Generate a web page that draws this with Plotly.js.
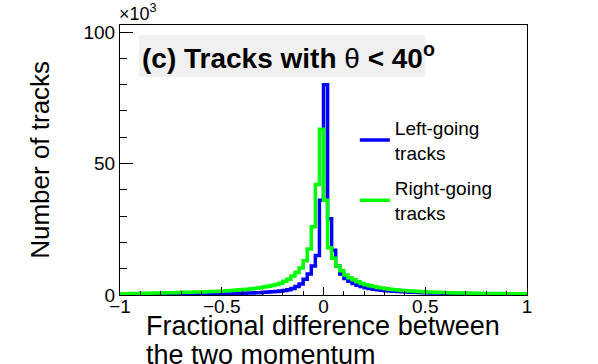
<!DOCTYPE html>
<html>
<head>
<meta charset="utf-8">
<script src="https://cdn.plot.ly/plotly-3.0.1.min.js"></script>
<style>html,body{margin:0;padding:0;background:#fff;}#chart{width:598px;height:364px;}</style>
</head>
<body>
<div id="chart"></div>
<script>
// Histogram binning: 100 bins from -1 to 1
const binLow = -1;
const binHigh = 1;
const nBins = 100;

// Counts per bin (in units of 10^3)
const leftGoing = [
  0.15,0.15,0.15,0.15,0.2,0.2,0.2,0.2,0.2,0.25,
  0.25,0.25,0.25,0.3,0.3,0.3,0.3,0.35,0.35,0.35,
  0.4,0.4,0.4,0.45,0.45,0.5,0.5,0.55,0.6,0.65,
  0.7,0.75,0.8,0.85,0.9,1.0,1.1,1.2,1.35,1.5,
  1.7,2.0,2.5,3.2,4.2,6,8,11,15,36,
  80,29,17,11,8,6.3,5.2,4.4,3.7,3.2,
  2.8,2.5,2.2,2.0,1.8,1.6,1.5,1.4,1.3,1.2,
  1.1,1.05,1.0,0.95,0.9,0.85,0.8,0.8,0.75,0.7,
  0.7,0.65,0.6,0.6,0.55,0.55,0.5,0.5,0.5,0.45,
  0.45,0.45,0.4,0.4,0.4,0.4,0.35,0.35,0.35,0.35
];
const rightGoing = [
  0.5,0.5,0.55,0.6,0.6,0.65,0.7,0.7,0.75,0.8,
  0.8,0.85,0.9,0.9,0.95,1.0,1.0,1.05,1.1,1.1,
  1.15,1.2,1.3,1.35,1.4,1.5,1.6,1.7,1.8,1.95,
  2.1,2.2,2.4,2.6,2.8,3.0,3.3,3.6,4.0,4.5,
  5.2,6.0,7.2,8.6,10.3,13,17.5,26,42,63,
  36,18,14,11,9.2,7.6,6.6,5.8,5.0,4.4,
  3.9,3.5,3.2,2.9,2.7,2.4,2.2,2.0,1.9,1.7,
  1.6,1.5,1.4,1.3,1.2,1.15,1.1,1.0,1.0,0.95,
  0.9,0.85,0.8,0.8,0.75,0.7,0.7,0.65,0.65,0.6,
  0.6,0.6,0.55,0.55,0.55,0.5,0.5,0.5,0.5,0.5
];
const seriesNames = ['Left-going<br>tracks', 'Right-going<br>tracks'];
const xTickVals = [-1, -0.5, 0, 0.5, 1];
const xTickText = ['\u22121', '\u22120.5', '0', '0.5', '1'];
const yTickVals = [0, 50, 100];
const yTickText = ['0', '50', '100'];

const edges = [];
for (let i = 0; i <= nBins; i++) edges.push(binLow + (binHigh - binLow) * i / nBins);
function stepY(v) { return v.concat([v[v.length - 1]]); }

const FONT = 'Liberation Sans, Arial, Helvetica, sans-serif';

const traces = [
  {x: edges, y: stepY(leftGoing), type: 'scatter', mode: 'lines', name: seriesNames[0],
   line: {shape: 'hv', color: '#0000ff', width: 3.5}, legendgroup: 'a'},
  {x: edges, y: stepY(rightGoing), type: 'scatter', mode: 'lines', name: seriesNames[1],
   line: {shape: 'hv', color: '#00ff00', width: 3.5}, legendgroup: 'b'}
];

const layout = {
  width: 598, height: 364,
  margin: {l: 120, r: 71, t: 25, b: 69},
  paper_bgcolor: '#ffffff', plot_bgcolor: '#ffffff',
  font: {family: FONT, color: '#000', size: 19},
  showlegend: true,
  legend: {x: 0.577, y: 0.69, xanchor: 'left', yanchor: 'top', bgcolor: 'rgba(0,0,0,0)',
           font: {family: FONT, size: 19, color: '#000'}, tracegroupgap: 8, traceorder: 'grouped'},
  xaxis: {range: [binLow, binHigh], tickvals: xTickVals, ticktext: xTickText,
          ticks: 'inside', ticklen: 8, tickwidth: 1, tickcolor: '#000', ticklabelstandoff: -6,
          minor: {dtick: 0.1, ticks: 'inside', ticklen: 4, tickcolor: '#000'},
          showline: true, linecolor: '#000', linewidth: 1, mirror: true,
          showgrid: false, zeroline: false, tickfont: {size: 19, family: FONT}},
  yaxis: {range: [0, 102.7], tickvals: yTickVals, ticktext: yTickText,
          ticks: 'inside', ticklen: 13, tickwidth: 1, tickcolor: '#000',
          minor: {dtick: 10, ticks: 'inside', ticklen: 7, tickcolor: '#000'},
          showline: true, linecolor: '#000', linewidth: 1, mirror: true,
          showgrid: false, zeroline: false, tickfont: {size: 19, family: FONT}},
  shapes: [
    {type: 'rect', xref: 'paper', yref: 'paper', x0: 0.0467, x1: 0.749, y0: 0.807, y1: 0.963,
     fillcolor: '#f0f0f0', line: {width: 0}, layer: 'below'}
  ],
  annotations: [
    {xref: 'paper', yref: 'paper', x: 0.049, y: 0.885, xanchor: 'left', yanchor: 'middle',
     text: '<b>(c) Tracks with </b>\u03b8<b> &lt; 40<sup>o</sup></b>', showarrow: false,
     font: {family: FONT, size: 28, color: '#000'}},
    {xref: 'paper', yref: 'paper', x: -0.007, y: 0.995, xanchor: 'left', yanchor: 'bottom',
     text: '\u00d710<sup>3</sup>', showarrow: false, font: {family: FONT, size: 18, color: '#000'}},
    {xref: 'paper', yref: 'paper', x: -0.197, y: 0.5, xanchor: 'center', yanchor: 'middle',
     text: 'Number of tracks', textangle: -90, showarrow: false,
     font: {family: FONT, size: 26, color: '#000'}},
    {xref: 'paper', yref: 'paper', x: 0.058, y: -0.05, xanchor: 'left', yanchor: 'top',
     text: 'Fractional difference between', showarrow: false,
     font: {family: FONT, size: 27, color: '#000'}},
    {xref: 'paper', yref: 'paper', x: 0.058, y: -0.158, xanchor: 'left', yanchor: 'top',
     text: 'the two momentum', showarrow: false,
     font: {family: FONT, size: 27, color: '#000'}}
  ]
};

Plotly.newPlot('chart', traces, layout, {displayModeBar: false, staticPlot: true});
</script>
</body>
</html>
